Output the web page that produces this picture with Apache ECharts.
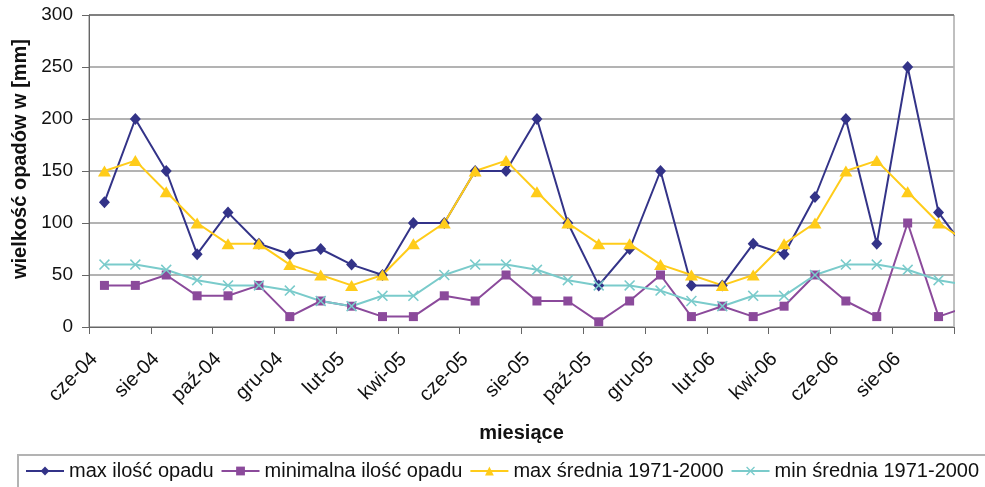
<!DOCTYPE html>
<html>
<head>
<meta charset="utf-8">
<script src="https://cdn.jsdelivr.net/npm/echarts@6/dist/echarts.min.js"></script>
<style>
  html, body { margin: 0; padding: 0; background: #fff; }
  #chart { width: 985px; height: 487px; }
</style>
</head>
<body>
<div id="chart"></div>
<script>
// Monthly categories (June 2004 – September 2006) plus the first month after the visible range
const months = ['cze-04','lip-04','sie-04','wrz-04','paź-04','lis-04','gru-04',
  'sty-05','lut-05','mar-05','kwi-05','maj-05','cze-05','lip-05','sie-05','wrz-05','paź-05','lis-05','gru-05',
  'sty-06','lut-06','mar-06','kwi-06','maj-06','cze-06','lip-06','sie-06','wrz-06','paź-06'];

const seriesNames = ['max ilość opadu', 'minimalna ilość opadu', 'max średnia 1971-2000', 'min średnia 1971-2000'];

// Precipitation in mm
const maxOpad = [120,200,150,70,110,80,70,75,60,50,100,100,150,150,200,100,40,75,150,40,40,80,70,125,200,80,250,110,70];
const minOpad = [40,40,50,30,30,40,10,25,20,10,10,30,25,50,25,25,5,25,50,10,20,10,20,50,25,10,100,10,20];
const maxSrednia = [150,160,130,100,80,80,60,50,40,50,80,100,150,160,130,100,80,80,60,50,40,50,80,100,150,160,130,100,80];
const minSrednia = [60,60,55,45,40,40,35,25,20,30,30,50,60,60,55,45,40,40,35,25,20,30,30,50,60,60,55,45,40];

const yTicks = { min: 0, max: 300, step: 50 };

const FONT = '"Liberation Sans", Arial, sans-serif';
const colors = ['#333388', '#8B4A9B', '#FFCC1A', '#7ACBCB'];
const crossPath = 'path://M0,1L1,0L5,4L9,0L10,1L6,5L10,9L9,10L5,6L1,10L0,9L4,5Z';

const symbols = [
  { symbol: 'diamond', size: [11, 12] },
  { symbol: 'rect', size: [9, 9] },
  { symbol: 'triangle', size: [13, 11] },
  { symbol: crossPath, size: [11, 11] }
];

const values = [maxOpad, minOpad, maxSrednia, minSrednia];

const chart = echarts.init(document.getElementById('chart'), null, { renderer: 'canvas' });

chart.setOption({
  animation: false,
  backgroundColor: '#ffffff',
  textStyle: { fontFamily: FONT },
  grid: {
    left: 89, right: 31, top: 15, bottom: 160,
    show: true, borderColor: '#808080', borderWidth: 1, backgroundColor: 'transparent'
  },
  xAxis: {
    type: 'category',
    data: months,
    min: 0,
    max: months.length - 2,
    boundaryGap: true,
    name: 'miesiące',
    nameLocation: 'middle',
    nameGap: 96,
    nameTextStyle: { fontFamily: FONT, fontSize: 20, fontWeight: 'bold', color: '#111' },
    axisLine: { lineStyle: { color: '#666', width: 1 } },
    axisTick: { show: true, interval: 1, length: 7, inside: false, lineStyle: { color: '#666' } },
    axisLabel: {
      interval: 1, rotate: 45, margin: 19, padding: [0, 14, 0, 0],
      fontFamily: FONT, fontSize: 20, color: '#111'
    },
    splitLine: { show: false }
  },
  yAxis: {
    type: 'value',
    min: yTicks.min, max: yTicks.max, interval: yTicks.step,
    name: 'wielkość opadów w [mm]',
    nameLocation: 'middle',
    nameGap: 59,
    nameTextStyle: {
      fontFamily: FONT, fontSize: 20, fontWeight: 'bold', color: '#111',
      padding: [0, 0, 0, 24]
    },
    axisLine: { show: true, lineStyle: { color: '#666', width: 1 } },
    axisTick: { show: true, length: 7, lineStyle: { color: '#666' } },
    axisLabel: { margin: 16, fontFamily: FONT, fontSize: 19, color: '#111' },
    splitLine: {
      show: true,
      lineStyle: { color: ['#b3b3b3','#b3b3b3','#b3b3b3','#b3b3b3','#b3b3b3','#b3b3b3','#808080'], width: 2 }
    }
  },
  legend: {
    left: 18, top: 455,
    width: 1000,
    padding: [6, 12, 8, 7],
    itemGap: 7,
    itemWidth: 38, itemHeight: 11,
    borderColor: '#b3b3b3', borderWidth: 2,
    textStyle: { fontFamily: FONT, fontSize: 20, color: '#111' },
    data: seriesNames
  },
  series: seriesNames.map((name, k) => ({
    name,
    type: 'line',
    data: values[k],
    clip: true,
    symbol: symbols[k].symbol,
    symbolSize: symbols[k].size,
    showAllSymbol: true,
    color: colors[k],
    lineStyle: { color: colors[k], width: 2 },
    itemStyle: { color: colors[k] },
    emphasis: { disabled: true }
  }))
});
</script>
</body>
</html>
